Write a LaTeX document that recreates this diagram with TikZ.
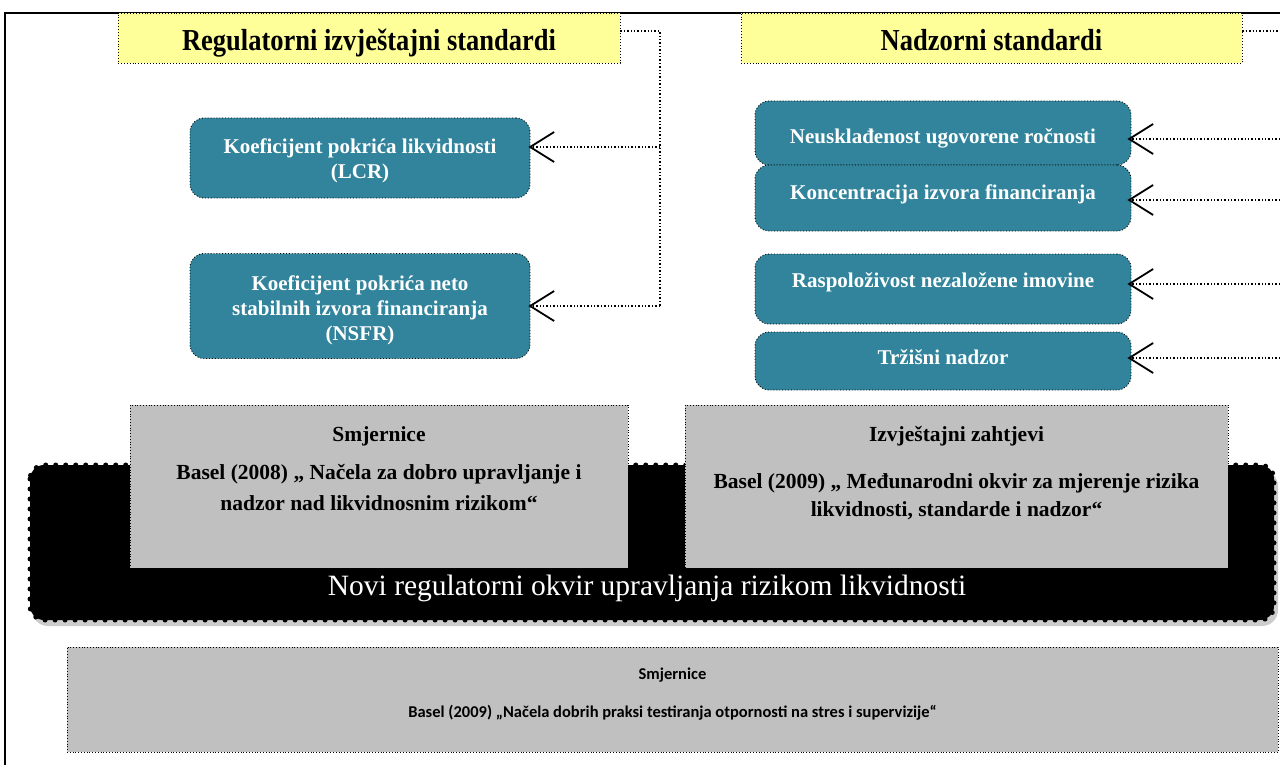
\documentclass[tikz,border=0pt]{standalone}
\usepackage{graphicx}
\usepackage{fontspec}
\setmainfont{Liberation Serif}
\newfontfamily\calib{Carlito}
\usetikzlibrary{arrows.meta}
\definecolor{tealc}{HTML}{31849B}
\definecolor{yellowc}{HTML}{FFFF99}
\definecolor{greyc}{HTML}{C0C0C0}
\begin{document}
\begin{tikzpicture}[x=1pt,y=-1pt,
  ybox/.style={draw, dotted, line width=0.9pt, fill=yellowc, minimum height=50pt, inner sep=0pt},
  ytext/.style={inner sep=0pt, anchor=base, font=\bfseries\fontsize{26.5}{30}\selectfont},
  tealbox/.style={draw, dotted, line width=0.9pt, fill=tealc, rounded corners=14pt, inner sep=0pt},
  ttext/.style={inner sep=0pt, text=white, align=center, font=\bfseries\fontsize{21}{25}\selectfont},
  greybox/.style={draw, dotted, line width=0.8pt, fill=greyc, inner sep=0pt},
  gtext/.style={align=center, inner sep=0pt, font=\bfseries\fontsize{21.5}{31}\selectfont},
  ctext/.style={inner sep=0pt, font=\calib\bfseries\fontsize{16.5}{18}\selectfont},
  conn/.style={dotted, line width=1.4pt},
  harr/.style={-{Straight Barb[length=24pt,width=30pt,line width=1.8pt]}},
]
\useasboundingbox (0,0) rectangle (1280,765);
\fill[white] (0,0) rectangle (1280,765);
% frame
\draw[line width=2pt] (5,765) -- (5,13) -- (1280,13);

% headings
\node[ybox, minimum width=502pt] (reg) at (369,38) {};
\node[ybox, minimum width=501pt] (nad) at (991.5,38) {};
\node[ytext] (regt) at (369,51) {\scalebox{1}[1.15]{Regulatorni izvještajni standardi}};
\node[ytext] (nadt) at (991.5,51) {\scalebox{1}[1.15]{Nadzorni standardi}};

% left teal boxes
\node[tealbox, minimum width=340pt, minimum height=80pt] (lcr) at (360,158) {};
\node[ttext] (lcrt) at (360,161) {Koeficijent pokrića likvidnosti\\(LCR)};
\node[tealbox, minimum width=340pt, minimum height=105pt] (nsfr) at (360,306) {};
\node[ttext] (nsfrt) at (360,310) {Koeficijent pokrića neto\\stabilnih izvora financiranja\\(NSFR)};

% right teal boxes
\node[tealbox, minimum width=376pt, minimum height=64pt] (n1) at (943,133) {};
\node[tealbox, minimum width=376pt, minimum height=66pt] (n2) at (943,198) {};
\node[tealbox, minimum width=376pt, minimum height=70pt] (n3) at (943,289) {};
\node[tealbox, minimum width=376pt, minimum height=58pt] (n4) at (943,361) {};
\node[ttext, anchor=base] (n1t) at (943,144) {Neusklađenost ugovorene ročnosti};
\node[ttext, anchor=base] (n2t) at (943,199) {Koncentracija izvora financiranja};
\node[ttext, anchor=base] (n3t) at (943,287) {Raspoloživost nezaložene imovine};
\node[ttext, anchor=base] (n4t) at (943,364) {Tržišni nadzor};

% connectors left
\coordinate (j1) at (660,31);
\draw[conn] (reg.east |- j1) -- (j1) -- (j1 |- nsfr.east);
\draw[conn, harr, shorten >=-2pt] (j1 |- 0,147) -- (lcr.east |- 0,147);
\draw[conn, harr, shorten >=-2pt] (j1 |- nsfr.east) -- (nsfr.east);

% connectors right
\coordinate (e0) at (1280,31);
\draw[conn] (nad.east |- e0) -- (e0);
\coordinate (e1) at (1280,139);
\coordinate (e2) at (1280,200);
\coordinate (e3) at (1280,284);
\coordinate (e4) at (1280,358);
\draw[conn, harr, shorten >=-4pt] (e1) -- (n1.east |- e1);
\draw[conn, harr, shorten >=-4pt] (e2) -- (n2.east |- e2);
\draw[conn, harr, shorten >=-4pt] (e3) -- (n3.east |- e3);
\draw[conn, harr, shorten >=-4pt] (e4) -- (n4.east |- e4);

% black scalloped box
\fill[gray!40, rounded corners=16pt] (32,470) rectangle (1278,626);
\draw[fill=black, line width=5pt, dash pattern=on 0pt off 10pt, line cap=round, rounded corners=14pt]
  (30,465) rectangle (1274,620);
\node[text=white, font=\fontsize{29.5}{32}\selectfont, inner sep=0pt] (novi) at (647,588)
  {Novi regulatorni okvir upravljanja rizikom likvidnosti};

% grey boxes
\node[greybox, minimum width=498pt, minimum height=163pt] (g1) at (379,486.5) {};
\node[gtext] (g1t) at (379,436) {Smjernice};
\node[gtext] (g1b) at (379,488) {Basel (2008) „ Načela za dobro upravljanje i\\nadzor nad likvidnosnim rizikom“};

\node[greybox, minimum width=543pt, minimum height=163pt] (g2) at (956.5,486.5) {};
\node[gtext] (g2t) at (956.5,436) {Izvještajni zahtjevi};
\node[gtext, font=\bfseries\fontsize{21.5}{28}\selectfont] (g2b) at (956.5,497) {Basel (2009) „ Međunarodni okvir za mjerenje rizika\\likvidnosti, standarde i nadzor“};

% bottom box
\node[greybox, minimum width=1211pt, minimum height=105pt] (g3) at (672.5,699.5) {};
\node[ctext] (g3t) at (672.5,675) {Smjernice};
\node[ctext] (g3b) at (672.5,713)
  {Basel (2009) „Načela dobrih praksi testiranja otpornosti na stres i supervizije“};
\end{tikzpicture}
\end{document}
